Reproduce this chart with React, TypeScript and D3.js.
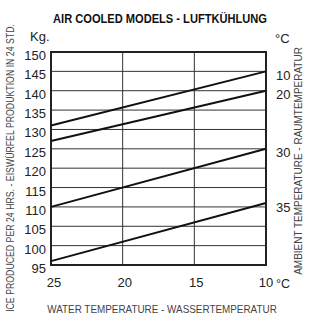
import React, { useEffect, useRef } from 'react';
import * as d3 from 'd3';

// Water temperature ticks (x, reversed) and ice production ticks (y)
const waterTicks = [25, 20, 15, 10];
const kgTicks = [95, 100, 105, 110, 115, 120, 125, 130, 135, 140, 145, 150];

// Ambient temperature series: kg at 25°C water and at 10°C water
const ambientLabels = ['10', '20', '30', '35'];
const kgAtWater25 = [131, 127, 110, 96];
const kgAtWater10 = [145, 140, 125, 111];

const FONT = '"Liberation Sans Narrow", "Arial Narrow", "Liberation Sans", Arial, sans-serif';

const App: React.FC = () => {
    const svgRef = useRef<SVGSVGElement>(null);
    const width = 311;
    const height = 317;

    useEffect(() => {
        if (!svgRef.current) return;
        const svg = d3.select(svgRef.current);
        svg.selectAll("*").remove();

        const margin = { top: 52, right: 45, bottom: 52, left: 51 };
        const innerWidth = width - margin.left - margin.right;
        const innerHeight = height - margin.top - margin.bottom;

        svg.append("rect").attr("width", width).attr("height", height).attr("fill", "#fff");

        const g = svg.append("g")
            .attr("transform", `translate(${margin.left},${margin.top})`);

        const x = d3.scaleLinear().domain([25, 10]).range([0, innerWidth]);
        const y = d3.scaleLinear().domain([95, 150]).range([innerHeight, 0]);

        // grid
        g.selectAll("line.h")
            .data(kgTicks)
            .join("line")
            .attr("x1", 0).attr("x2", innerWidth)
            .attr("y1", d => y(d)).attr("y2", d => y(d))
            .attr("stroke", "#333").attr("stroke-width", 1);

        g.selectAll("line.v")
            .data(waterTicks)
            .join("line")
            .attr("x1", d => x(d)).attr("x2", d => x(d))
            .attr("y1", 0).attr("y2", innerHeight)
            .attr("stroke", "#333").attr("stroke-width", 1);

        // frame
        g.append("rect")
            .attr("width", innerWidth).attr("height", innerHeight)
            .attr("fill", "none").attr("stroke", "#222").attr("stroke-width", 2);

        // lines
        const line = d3.line<[number, number]>().x(d => x(d[0])).y(d => y(d[1]));
        ambientLabels.forEach((lab, i) => {
            g.append("path")
                .datum([[25, kgAtWater25[i]], [10, kgAtWater10[i]]] as [number, number][])
                .attr("fill", "none")
                .attr("stroke", "#111")
                .attr("stroke-width", 2)
                .attr("d", line);

            g.append("text")
                .attr("x", innerWidth + 10)
                .attr("y", y(kgAtWater10[i]) + 8.5)
                .attr("fill", "#222")
                .style("font-family", FONT)
                .style("font-size", "13px")
                .text(lab);
        });

        // y tick labels
        g.selectAll("text.yt")
            .data(kgTicks)
            .join("text")
            .attr("x", -5)
            .attr("y", d => y(d) + 8)
            .attr("text-anchor", "end")
            .attr("fill", "#222")
            .style("font-family", FONT)
            .style("font-size", "13px")
            .text(d => d);

        // x tick labels
        g.selectAll("text.xt")
            .data(waterTicks)
            .join("text")
            .attr("x", d => x(d) + (d === 25 ? 3 : d === 10 ? 0 : 2))
            .attr("y", innerHeight + 22)
            .attr("text-anchor", "middle")
            .attr("fill", "#222")
            .style("font-family", FONT)
            .style("font-size", "13px")
            .text(d => d);

        g.append("text")
            .attr("x", innerWidth + 10)
            .attr("y", innerHeight + 23)
            .attr("fill", "#222")
            .style("font-family", FONT)
            .style("font-size", "12.5px")
            .text("°C");

        // units
        svg.append("text")
            .attr("x", 30).attr("y", 41)
            .attr("fill", "#222")
            .style("font-family", FONT)
            .style("font-size", "13px")
            .text("Kg.");

        svg.append("text")
            .attr("x", 275).attr("y", 43)
            .attr("fill", "#222")
            .style("font-family", FONT)
            .style("font-size", "13px")
            .text("°C");

        // condensed text: squeeze horizontally to a target width (narrow font look)
        const squeezed = (label: string, cx: number, cy: number, rot: number, len: number,
            size: number, color: string, bold = false) => {
            const t = svg.append("text")
                .attr("text-anchor", "middle")
                .attr("fill", color)
                .style("font-family", FONT)
                .style("font-size", `${size}px`)
                .style("font-weight", bold ? "bold" : "normal")
                .text(label);
            const natural = (t.node() as SVGTextElement).getComputedTextLength() || len;
            const sx = Math.min(1, len / natural);
            t.attr("transform", `translate(${cx},${cy}) rotate(${rot}) scale(${sx},1)`);
        };

        squeezed("AIR COOLED MODELS - LUFTKÜHLUNG", 160, 23, 0, 214, 12.5, "#111", true);
        squeezed("WATER TEMPERATURE - WASSERTEMPERATUR", 162, 313, 0, 230, 10.5, "#444");
        squeezed("ICE PRODUCED PER 24 HRS. - EISWÜRFEL PRODUKTION IN 24 STD.", 14, 168, -90, 288, 10.5, "#444");
        squeezed("AMBIENT TEMPERATURE - RAUMTEMPERATUR", 302, 161, -90, 228, 10.5, "#444");
    }, []);

    return <svg ref={svgRef} width={width} height={height}
        style={{ position: 'absolute', left: 0, top: 0 }} />;
};

export default App;
